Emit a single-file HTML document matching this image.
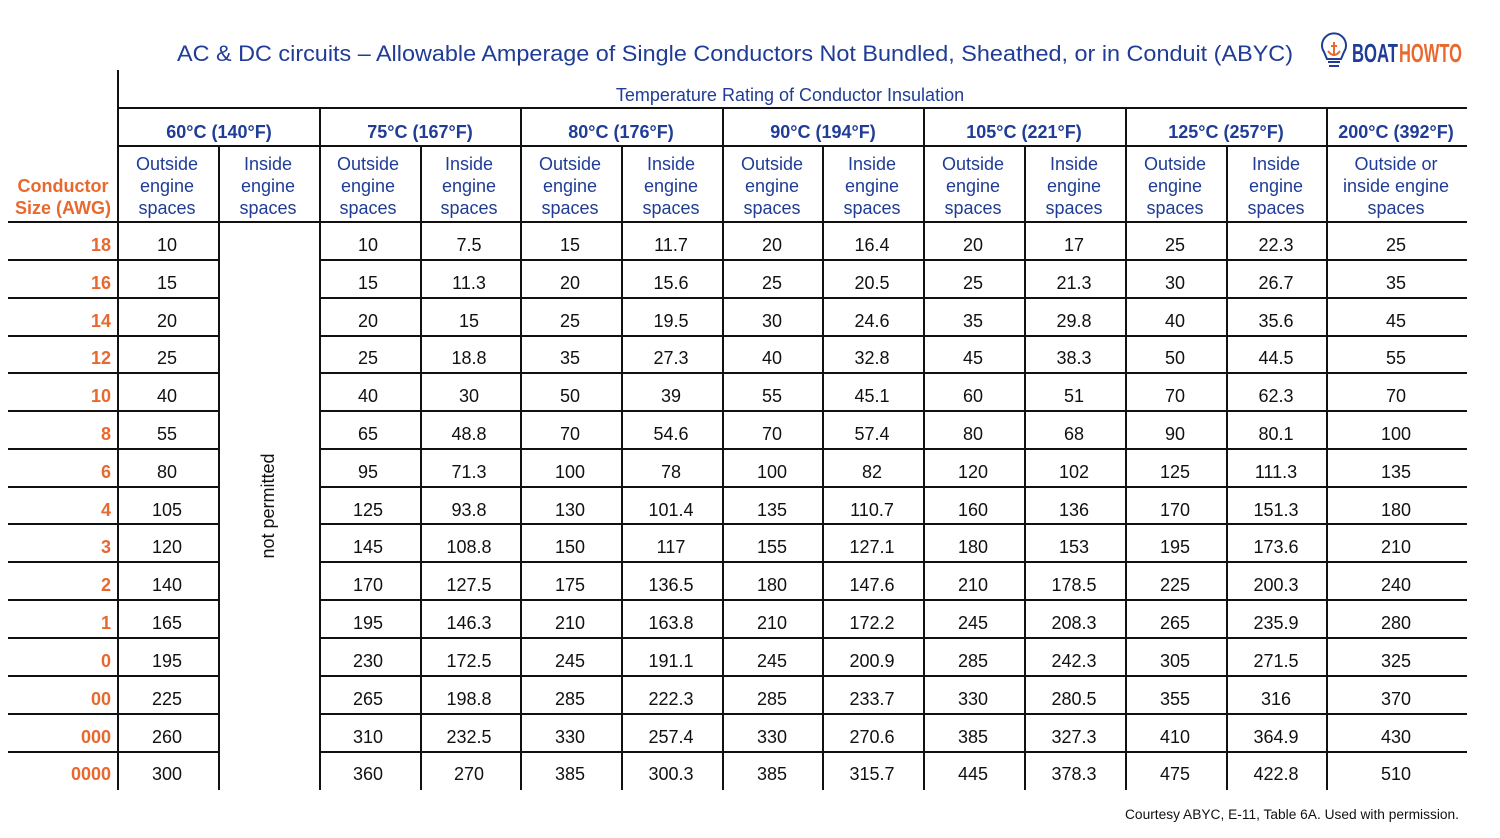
<!DOCTYPE html>
<html><head><meta charset="utf-8"><style>
html,body{margin:0;padding:0;background:#fff;width:1500px;height:838px;overflow:hidden}
svg text{font-family:"Liberation Sans",Arial,sans-serif}
.n{font-size:18px;fill:#111;text-anchor:middle}
.r{font-size:18px;fill:#e8692e;font-weight:bold;text-anchor:end}
.h{font-size:18px;fill:#1f3c96;text-anchor:middle}
.hb{font-size:18px;fill:#1f3c96;text-anchor:middle;font-weight:bold}
</style></head><body>
<svg width="1500" height="838" xmlns="http://www.w3.org/2000/svg">
<text x="177" y="61" textLength="1116" lengthAdjust="spacingAndGlyphs" style="font-size:22.5px;fill:#1f3c96">AC &amp; DC circuits – Allowable Amperage of Single Conductors Not Bundled, Sheathed, or in Conduit (ABYC)</text>
<!-- logo -->
<g transform="translate(1334,52)">
<path d="M-10,0 a12,12 0 1 1 20,0 l-3,7 h-14 z" fill="none" stroke="#1f3c96" stroke-width="2"/>
<line x1="-6" y1="10" x2="6" y2="10" stroke="#1f3c96" stroke-width="2"/>
<line x1="-5" y1="14" x2="5" y2="14" stroke="#1f3c96" stroke-width="2"/>
<line x1="0" y1="-10" x2="0" y2="4" stroke="#e8692e" stroke-width="2"/>
<path d="M-6,-1 q6,8 12,0" fill="none" stroke="#e8692e" stroke-width="2"/>
<line x1="-3" y1="-6" x2="3" y2="-6" stroke="#e8692e" stroke-width="2"/>
</g>
<text x="1352" y="62" style="font-size:26px;font-weight:bold;fill:#1f3c96" textLength="46" lengthAdjust="spacingAndGlyphs">BOAT</text>
<text x="1399" y="62" style="font-size:26px;font-weight:bold;fill:#e8692e" textLength="63" lengthAdjust="spacingAndGlyphs">HOWTO</text>

<g stroke="#111" stroke-width="2">
<line x1="118" y1="70" x2="118" y2="790"/>
<line x1="118" y1="108" x2="1467" y2="108"/>
<line x1="118" y1="146" x2="1467" y2="146"/>
<line x1="8" y1="222" x2="1467" y2="222"/>
<line x1="320" y1="108" x2="320" y2="790"/>
<line x1="521" y1="108" x2="521" y2="790"/>
<line x1="723" y1="108" x2="723" y2="790"/>
<line x1="924" y1="108" x2="924" y2="790"/>
<line x1="1126" y1="108" x2="1126" y2="790"/>
<line x1="1327" y1="108" x2="1327" y2="790"/>
<line x1="219" y1="146" x2="219" y2="790"/>
<line x1="421" y1="146" x2="421" y2="790"/>
<line x1="622" y1="146" x2="622" y2="790"/>
<line x1="823" y1="146" x2="823" y2="790"/>
<line x1="1025" y1="146" x2="1025" y2="790"/>
<line x1="1227" y1="146" x2="1227" y2="790"/>
<path d="M8 260H219M320 260H1467M8 298H219M320 298H1467M8 336H219M320 336H1467M8 373H219M320 373H1467M8 411H219M320 411H1467M8 449H219M320 449H1467M8 487H219M320 487H1467M8 524H219M320 524H1467M8 562H219M320 562H1467M8 600H219M320 600H1467M8 638H219M320 638H1467M8 676H219M320 676H1467M8 714H219M320 714H1467M8 752H219M320 752H1467"/>
</g>

<text class="h" x="790" y="101">Temperature Rating of Conductor Insulation</text>
<text class="hb" x="219" y="138">60°C (140°F)</text>
<text class="hb" x="420" y="138">75°C (167°F)</text>
<text class="hb" x="621" y="138">80°C (176°F)</text>
<text class="hb" x="823" y="138">90°C (194°F)</text>
<text class="hb" x="1024" y="138">105°C (221°F)</text>
<text class="hb" x="1226" y="138">125°C (257°F)</text>
<text class="hb" x="1396" y="138">200°C (392°F)</text>

<text class="r" style="text-anchor:middle" x="63" y="192">Conductor</text>
<text class="r" style="text-anchor:middle" x="63" y="214">Size (AWG)</text>

<g class="h">
<text class="h" x="167" y="170">Outside</text><text class="h" x="167" y="192">engine</text><text class="h" x="167" y="214">spaces</text>
<text class="h" x="268" y="170">Inside</text><text class="h" x="268" y="192">engine</text><text class="h" x="268" y="214">spaces</text>
<text class="h" x="368" y="170">Outside</text><text class="h" x="368" y="192">engine</text><text class="h" x="368" y="214">spaces</text>
<text class="h" x="469" y="170">Inside</text><text class="h" x="469" y="192">engine</text><text class="h" x="469" y="214">spaces</text>
<text class="h" x="570" y="170">Outside</text><text class="h" x="570" y="192">engine</text><text class="h" x="570" y="214">spaces</text>
<text class="h" x="671" y="170">Inside</text><text class="h" x="671" y="192">engine</text><text class="h" x="671" y="214">spaces</text>
<text class="h" x="772" y="170">Outside</text><text class="h" x="772" y="192">engine</text><text class="h" x="772" y="214">spaces</text>
<text class="h" x="872" y="170">Inside</text><text class="h" x="872" y="192">engine</text><text class="h" x="872" y="214">spaces</text>
<text class="h" x="973" y="170">Outside</text><text class="h" x="973" y="192">engine</text><text class="h" x="973" y="214">spaces</text>
<text class="h" x="1074" y="170">Inside</text><text class="h" x="1074" y="192">engine</text><text class="h" x="1074" y="214">spaces</text>
<text class="h" x="1175" y="170">Outside</text><text class="h" x="1175" y="192">engine</text><text class="h" x="1175" y="214">spaces</text>
<text class="h" x="1276" y="170">Inside</text><text class="h" x="1276" y="192">engine</text><text class="h" x="1276" y="214">spaces</text>
<text class="h" x="1396" y="170">Outside or</text><text class="h" x="1396" y="192">inside engine</text><text class="h" x="1396" y="214">spaces</text>
</g>

<text class="n" transform="translate(274,506) rotate(-90)">not permitted</text>

<g>
<text class="r" x="111" y="251">18</text><text class="n" x="167" y="251">10</text><text class="n" x="368" y="251">10</text><text class="n" x="469" y="251">7.5</text><text class="n" x="570" y="251">15</text><text class="n" x="671" y="251">11.7</text><text class="n" x="772" y="251">20</text><text class="n" x="872" y="251">16.4</text><text class="n" x="973" y="251">20</text><text class="n" x="1074" y="251">17</text><text class="n" x="1175" y="251">25</text><text class="n" x="1276" y="251">22.3</text><text class="n" x="1396" y="251">25</text>
<text class="r" x="111" y="289">16</text><text class="n" x="167" y="289">15</text><text class="n" x="368" y="289">15</text><text class="n" x="469" y="289">11.3</text><text class="n" x="570" y="289">20</text><text class="n" x="671" y="289">15.6</text><text class="n" x="772" y="289">25</text><text class="n" x="872" y="289">20.5</text><text class="n" x="973" y="289">25</text><text class="n" x="1074" y="289">21.3</text><text class="n" x="1175" y="289">30</text><text class="n" x="1276" y="289">26.7</text><text class="n" x="1396" y="289">35</text>
<text class="r" x="111" y="327">14</text><text class="n" x="167" y="327">20</text><text class="n" x="368" y="327">20</text><text class="n" x="469" y="327">15</text><text class="n" x="570" y="327">25</text><text class="n" x="671" y="327">19.5</text><text class="n" x="772" y="327">30</text><text class="n" x="872" y="327">24.6</text><text class="n" x="973" y="327">35</text><text class="n" x="1074" y="327">29.8</text><text class="n" x="1175" y="327">40</text><text class="n" x="1276" y="327">35.6</text><text class="n" x="1396" y="327">45</text>
<text class="r" x="111" y="364">12</text><text class="n" x="167" y="364">25</text><text class="n" x="368" y="364">25</text><text class="n" x="469" y="364">18.8</text><text class="n" x="570" y="364">35</text><text class="n" x="671" y="364">27.3</text><text class="n" x="772" y="364">40</text><text class="n" x="872" y="364">32.8</text><text class="n" x="973" y="364">45</text><text class="n" x="1074" y="364">38.3</text><text class="n" x="1175" y="364">50</text><text class="n" x="1276" y="364">44.5</text><text class="n" x="1396" y="364">55</text>
<text class="r" x="111" y="402">10</text><text class="n" x="167" y="402">40</text><text class="n" x="368" y="402">40</text><text class="n" x="469" y="402">30</text><text class="n" x="570" y="402">50</text><text class="n" x="671" y="402">39</text><text class="n" x="772" y="402">55</text><text class="n" x="872" y="402">45.1</text><text class="n" x="973" y="402">60</text><text class="n" x="1074" y="402">51</text><text class="n" x="1175" y="402">70</text><text class="n" x="1276" y="402">62.3</text><text class="n" x="1396" y="402">70</text>
<text class="r" x="111" y="440">8</text><text class="n" x="167" y="440">55</text><text class="n" x="368" y="440">65</text><text class="n" x="469" y="440">48.8</text><text class="n" x="570" y="440">70</text><text class="n" x="671" y="440">54.6</text><text class="n" x="772" y="440">70</text><text class="n" x="872" y="440">57.4</text><text class="n" x="973" y="440">80</text><text class="n" x="1074" y="440">68</text><text class="n" x="1175" y="440">90</text><text class="n" x="1276" y="440">80.1</text><text class="n" x="1396" y="440">100</text>
<text class="r" x="111" y="478">6</text><text class="n" x="167" y="478">80</text><text class="n" x="368" y="478">95</text><text class="n" x="469" y="478">71.3</text><text class="n" x="570" y="478">100</text><text class="n" x="671" y="478">78</text><text class="n" x="772" y="478">100</text><text class="n" x="872" y="478">82</text><text class="n" x="973" y="478">120</text><text class="n" x="1074" y="478">102</text><text class="n" x="1175" y="478">125</text><text class="n" x="1276" y="478">111.3</text><text class="n" x="1396" y="478">135</text>
<text class="r" x="111" y="516">4</text><text class="n" x="167" y="516">105</text><text class="n" x="368" y="516">125</text><text class="n" x="469" y="516">93.8</text><text class="n" x="570" y="516">130</text><text class="n" x="671" y="516">101.4</text><text class="n" x="772" y="516">135</text><text class="n" x="872" y="516">110.7</text><text class="n" x="973" y="516">160</text><text class="n" x="1074" y="516">136</text><text class="n" x="1175" y="516">170</text><text class="n" x="1276" y="516">151.3</text><text class="n" x="1396" y="516">180</text>
<text class="r" x="111" y="553">3</text><text class="n" x="167" y="553">120</text><text class="n" x="368" y="553">145</text><text class="n" x="469" y="553">108.8</text><text class="n" x="570" y="553">150</text><text class="n" x="671" y="553">117</text><text class="n" x="772" y="553">155</text><text class="n" x="872" y="553">127.1</text><text class="n" x="973" y="553">180</text><text class="n" x="1074" y="553">153</text><text class="n" x="1175" y="553">195</text><text class="n" x="1276" y="553">173.6</text><text class="n" x="1396" y="553">210</text>
<text class="r" x="111" y="591">2</text><text class="n" x="167" y="591">140</text><text class="n" x="368" y="591">170</text><text class="n" x="469" y="591">127.5</text><text class="n" x="570" y="591">175</text><text class="n" x="671" y="591">136.5</text><text class="n" x="772" y="591">180</text><text class="n" x="872" y="591">147.6</text><text class="n" x="973" y="591">210</text><text class="n" x="1074" y="591">178.5</text><text class="n" x="1175" y="591">225</text><text class="n" x="1276" y="591">200.3</text><text class="n" x="1396" y="591">240</text>
<text class="r" x="111" y="629">1</text><text class="n" x="167" y="629">165</text><text class="n" x="368" y="629">195</text><text class="n" x="469" y="629">146.3</text><text class="n" x="570" y="629">210</text><text class="n" x="671" y="629">163.8</text><text class="n" x="772" y="629">210</text><text class="n" x="872" y="629">172.2</text><text class="n" x="973" y="629">245</text><text class="n" x="1074" y="629">208.3</text><text class="n" x="1175" y="629">265</text><text class="n" x="1276" y="629">235.9</text><text class="n" x="1396" y="629">280</text>
<text class="r" x="111" y="667">0</text><text class="n" x="167" y="667">195</text><text class="n" x="368" y="667">230</text><text class="n" x="469" y="667">172.5</text><text class="n" x="570" y="667">245</text><text class="n" x="671" y="667">191.1</text><text class="n" x="772" y="667">245</text><text class="n" x="872" y="667">200.9</text><text class="n" x="973" y="667">285</text><text class="n" x="1074" y="667">242.3</text><text class="n" x="1175" y="667">305</text><text class="n" x="1276" y="667">271.5</text><text class="n" x="1396" y="667">325</text>
<text class="r" x="111" y="705">00</text><text class="n" x="167" y="705">225</text><text class="n" x="368" y="705">265</text><text class="n" x="469" y="705">198.8</text><text class="n" x="570" y="705">285</text><text class="n" x="671" y="705">222.3</text><text class="n" x="772" y="705">285</text><text class="n" x="872" y="705">233.7</text><text class="n" x="973" y="705">330</text><text class="n" x="1074" y="705">280.5</text><text class="n" x="1175" y="705">355</text><text class="n" x="1276" y="705">316</text><text class="n" x="1396" y="705">370</text>
<text class="r" x="111" y="743">000</text><text class="n" x="167" y="743">260</text><text class="n" x="368" y="743">310</text><text class="n" x="469" y="743">232.5</text><text class="n" x="570" y="743">330</text><text class="n" x="671" y="743">257.4</text><text class="n" x="772" y="743">330</text><text class="n" x="872" y="743">270.6</text><text class="n" x="973" y="743">385</text><text class="n" x="1074" y="743">327.3</text><text class="n" x="1175" y="743">410</text><text class="n" x="1276" y="743">364.9</text><text class="n" x="1396" y="743">430</text>
<text class="r" x="111" y="780">0000</text><text class="n" x="167" y="780">300</text><text class="n" x="368" y="780">360</text><text class="n" x="469" y="780">270</text><text class="n" x="570" y="780">385</text><text class="n" x="671" y="780">300.3</text><text class="n" x="772" y="780">385</text><text class="n" x="872" y="780">315.7</text><text class="n" x="973" y="780">445</text><text class="n" x="1074" y="780">378.3</text><text class="n" x="1175" y="780">475</text><text class="n" x="1276" y="780">422.8</text><text class="n" x="1396" y="780">510</text>
</g>
<text x="1459" y="819" textLength="334" lengthAdjust="spacingAndGlyphs" style="font-size:13.5px;fill:#111;text-anchor:end">Courtesy ABYC, E-11, Table 6A. Used with permission.</text>
</svg>
</body></html>
